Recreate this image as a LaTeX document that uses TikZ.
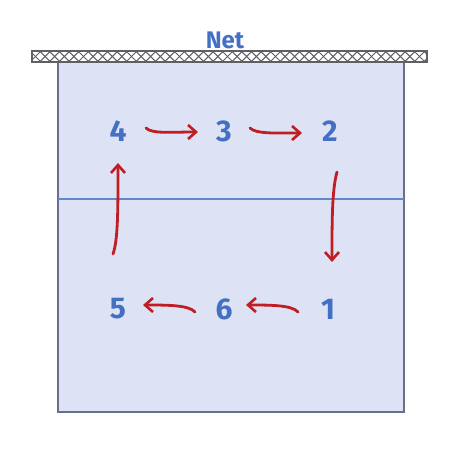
\documentclass[tikz,border=0pt]{standalone}
\usepackage{fontspec}
\setmainfont{Fira Sans}
\usetikzlibrary{arrows.meta}
\definecolor{courtfill}{RGB}{221,227,244}
\definecolor{courtedge}{RGB}{105,110,140}
\definecolor{midline}{RGB}{100,135,200}
\definecolor{numblue}{RGB}{68,112,196}
\definecolor{arrred}{RGB}{192,30,36}
\definecolor{netgray}{RGB}{95,95,100}
\tikzset{
  num/.style={text=numblue, font=\fontsize{30}{32}\selectfont\bfseries, inner sep=2pt},
  rot/.style={draw=arrred, line width=2.8pt, line cap=round,
    -{Straight Barb[length=8pt,width=14pt,line width=2.6pt]}},
}
\begin{document}
\begin{tikzpicture}[x=1pt,y=-1pt]
\useasboundingbox (0,0) rectangle (474,474);
% court
\draw[fill=courtfill, draw=courtedge, line width=1.6pt] (58,57) rectangle (404,412);
\draw[midline, line width=1.1pt] (58,199) -- (404,199);
% net
\fill[white] (32,51) rectangle (427,62);
\begin{scope}
\clip (32,51) rectangle (427,62);
\foreach \i in {0,...,42} {
  \draw[netgray, line width=1pt] (32+\i*9.6-2,51) -- (32+\i*9.6+9,62);
  \draw[netgray, line width=1pt] (32+\i*9.6-2,62) -- (32+\i*9.6+9,51);
}
\end{scope}
\draw[netgray, line width=1.2pt] (32,51) rectangle (427,62);
\node[text=numblue, font=\fontsize{24}{26}\selectfont\bfseries, inner sep=0pt] (net) at (225,40) {Net};
% positions
\node[num] (n4) at (118,131) {4};
\node[num] (n3) at (224,131) {3};
\node[num] (n2) at (330,131) {2};
\node[num] (n5) at (118,309) {5};
\node[num] (n6) at (224,309) {6};
\node[num] (n1) at (328,309) {1};
% rotation arrows
\coordinate (a4s) at (146,128);
\coordinate (a3e) at (198,132);
\coordinate (a3s) at (250,128);
\coordinate (a2e) at (302,133);
\coordinate (a2s) at (337,172);
\coordinate (a1e) at (332,262);
\coordinate (a1s) at (298,312);
\coordinate (a6e) at (246,305);
\coordinate (a6s) at (195,312);
\coordinate (a5e) at (143,305);
\coordinate (a5s) at (113,254);
\coordinate (a4e) at (118,163);
\draw[rot] (a4s) .. controls (152,134) and (170,132) .. (a3e);
\draw[rot] (a3s) .. controls (256,134) and (274,133) .. (a2e);
\draw[rot] (a2s) .. controls (332,190) and (332,220) .. (a1e);
\draw[rot] (a1s) .. controls (292,305) and (270,305) .. (a6e);
\draw[rot] (a6s) .. controls (189,305) and (167,305) .. (a5e);
\draw[rot] (a5s) .. controls (118,240) and (118,210) .. (a4e);
\end{tikzpicture}
\end{document}
